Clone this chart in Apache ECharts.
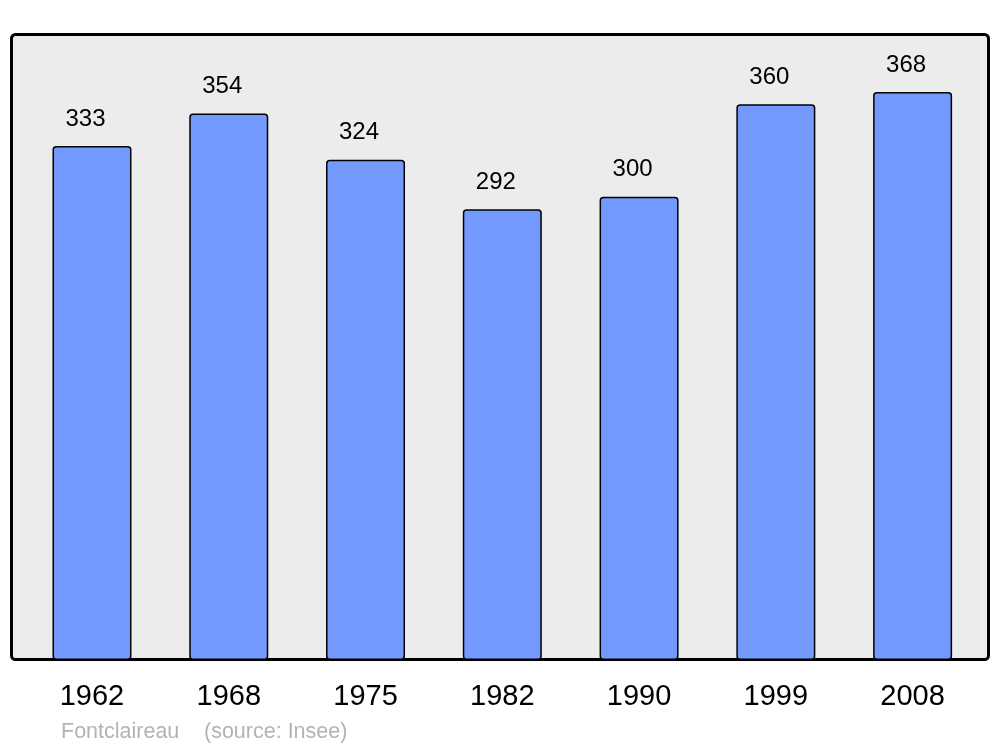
<!DOCTYPE html>
<html>
<head>
<meta charset="utf-8">
<script src="https://cdn.jsdelivr.net/npm/echarts@6/dist/echarts.min.js"></script>
<style>html,body{margin:0;padding:0;background:#fff}#c{width:1000px;height:747px}</style>
</head>
<body>
<div id="c"></div>
<script>
const years = ['1962', '1968', '1975', '1982', '1990', '1999', '2008'];
const population = [333, 354, 324, 292, 300, 360, 368];
const commune = 'Fontclaireau';
const source = '(source: Insee)';

const chart = echarts.init(document.getElementById('c'), null, {renderer: 'canvas'});
const font = 'Liberation Sans, Arial, sans-serif';
chart.setOption({
  animation: false,
  backgroundColor: '#ffffff',
  textStyle: {fontFamily: font},
  graphic: [{
    type: 'rect', z: -1, silent: true,
    shape: {x: 11.5, y: 34.5, width: 977, height: 625, r: 4},
    style: {fill: '#ececec', stroke: '#000', lineWidth: 3}
  }],
  title: [
    {text: commune, left: 61, top: 721, padding: 0, textStyle: {fontSize: 21.5, fontWeight: 'normal', color: '#b3b3b3', fontFamily: font}},
    {text: source, left: 204, top: 721, padding: 0, textStyle: {fontSize: 21.5, fontWeight: 'normal', color: '#b3b3b3', fontFamily: font}}
  ],
  grid: {left: 23.6, right: 19, top: 34, bottom: 87, containLabel: false},
  xAxis: {
    type: 'category', data: years,
    axisLine: {show: false}, axisTick: {show: false},
    axisLabel: {fontSize: 29, color: '#000', margin: 22, fontFamily: font}
  },
  yAxis: {
    type: 'value', min: 0, max: 405.5,
    show: false, splitLine: {show: false}
  },
  series: [{
    type: 'bar', data: population, barWidth: 79,
    itemStyle: {color: '#7399ff', borderColor: '#000', borderWidth: 1.5, borderRadius: 3},
    label: {show: true, position: 'top', distance: 15, offset: [-6.5, 0], fontSize: 24, color: '#000', fontFamily: font}
  }]
});
</script>
</body>
</html>
